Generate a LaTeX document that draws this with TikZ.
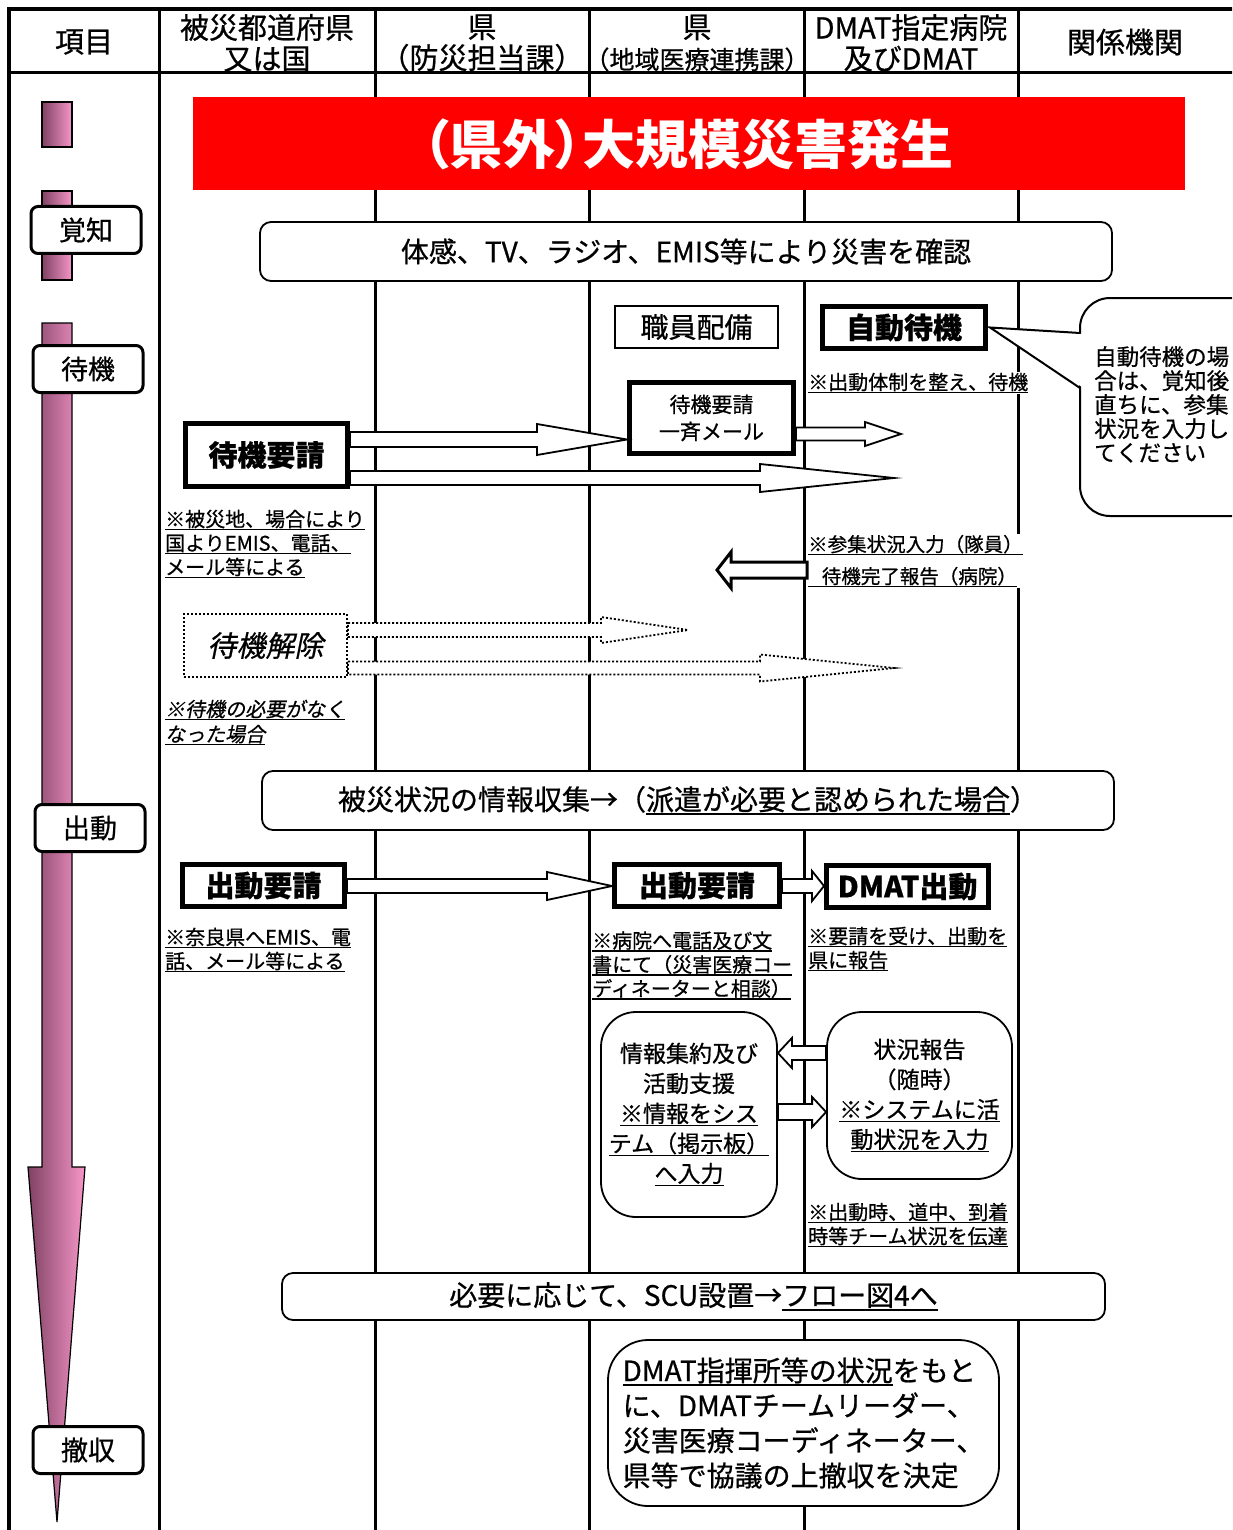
\documentclass[tikz,border=0pt]{standalone}
\usepackage{fontspec}
\setmainfont{Noto Sans CJK JP}[FakeBold=0.7]
\newfontfamily\jpit{Noto Sans CJK JP}[FakeSlant=0.2,FakeBold=0.7]
\newfontfamily\jpprop{Noto Sans CJK JP}[RawFeature=+palt]
\usepackage{xcolor}
\usepackage{tikz}
\usetikzlibrary{calc}
\usetikzlibrary{positioning}
\definecolor{pinkdark}{RGB}{128,66,100}
\definecolor{pinklight}{RGB}{246,150,200}
\newsavebox{\senbox}
\newcommand{\sen}[1]{\sbox{\senbox}{#1}\rlap{\rule[-0.18em]{\wd\senbox}{0.07em}}\usebox{\senbox}}
\newcommand{\fsz}[2]{\fontsize{#1}{#2}\selectfont}
\newcommand{\hollowarrow}[6][]{%
	\coordinate (hb) at ($(#3)!#6!(#2)$);
	\draw[hollow,#1] ($(#2)!#4!90:(#3)$) -- ($(hb)!#4!90:(#3)$) -- ($(hb)!#5!90:(#3)$) -- (#3) -- ($(hb)!#5!-90:(#3)$) -- ($(hb)!#4!-90:(#3)$) -- ($(#2)!#4!-90:(#3)$) -- cycle;}

\begin{document}
\begin{tikzpicture}[x=1pt,y=-1pt,
	head/.style={align=center,font=\fsz{29}{31}},
	stage/.style={draw,line width=3pt,rounded corners=7pt,fill=white,minimum width=110pt,minimum height=47pt,font=\fsz{27}{30}},
	band/.style={draw,line width=1.8pt,rounded corners=11pt,fill=white,font=\fsz{28}{30}},
	thickbox/.style={draw,line width=5pt,fill=white,inner sep=0pt,font=\bfseries\fsz{29}{33}},
	infobox/.style={draw,line width=1.8pt,fill=white,align=center,font=\fsz{23}{30}},
	dotbox/.style={draw,line width=2pt,dash pattern=on 2pt off 2pt,fill=white},
	note/.style={anchor=west,align=left,inner sep=1pt,fill=white,font=\fsz{20}{24}},
	hollow/.style={draw,fill=white,line width=1.8pt},
	pinkbar/.style={draw,line width=1.2pt,left color=pinkdark,right color=pinklight}]
	\path[use as bounding box] (0,0) rectangle (1232,1530);
	\clip (0,0) rectangle (1232,1530);
	\draw[line width=4pt] (9,9) rectangle (1260,1560);
	\draw[line width=3pt] (9,73) -- (1260,73);
	\foreach \cx in {159,375,589,804,1018}
		\draw[line width=3pt] (\cx,9) -- (\cx,1560);
	\node[head] (h1) at (84,42) {項目};
	\node[head] (h2) at (267,43) {被災都道府県\\又は国};
	\node[head] (h3) at (482,43) {県\\（防災担当課）};
	\node[head] (h4) at (697,43) {県\\{\fsz{25}{31}（地域医療連携課）}};
	\node[head] (h5) at (911,43) {DMAT指定病院\\及びDMAT};
	\node[head] (h6) at (1125,42) {関係機関};

	\draw[pinkbar] (42,102) rectangle (72,147);
	\draw[pinkbar] (42,191) rectangle (72,280);
	\draw[pinkbar] (42,323) -- (72,323) -- (72,1167) -- (85,1167) -- (57,1522) -- (28,1167) -- (42,1167) -- cycle;
	\node[stage] (kakuchi) at (86,230) {覚知};
	\node[stage] (taiki) at (88,369) {待機};
	\node[stage] (shutsudo) at (90,828) {出動};
	\node[stage] (tesshu) at (88,1450) {撤収};

	\fill[red] (193,97) rectangle (1185,190);
	\node[text=white,font=\jpprop\bfseries\fsz{53}{56}] (hassei) at (688,144) {（県外）大規模災害発生};
	\node[band,minimum width=852pt,minimum height=59pt] (kakunin) at (686,251.5) {体感、TV、ラジオ、EMIS等により災害を確認};

	\node[draw,line width=1.8pt,fill=white,minimum width=163pt,minimum height=42pt,font=\fsz{28}{31}] (haibi) at (696.5,327) {職員配備};
	\node[thickbox,minimum width=163pt,minimum height=42pt] (jido) at (904,327.5) {自動待機};
	\draw[line width=2pt,fill=white,rounded corners=30pt] (1080,298) rectangle (1300,516);
	\fill[white] (1082,334) -- ([xshift=2pt]jido.east) -- (1082,387) -- cycle;
	\draw[line width=2pt] (1080,333) -- ([xshift=2pt]jido.east) -- (1080,388);
	\node[anchor=north west,align=left,inner sep=0pt,font=\fsz{22.5}{24}] (fukidashi) at (1094,346) {自動待機の場\\合は、覚知後\\直ちに、参集\\状況を入力し\\てください};
	\node[note] (n1) at (807,383) {\sen{※出動体制を整え、待機}};

	\node[thickbox,font=\fsz{21}{27},align=center,minimum width=164pt,minimum height=71pt] (mail) at (711.5,418) {待機要請\\一斉メール};
	\node[thickbox,minimum width=162pt,minimum height=63pt] (yosei1) at (266.5,455) {待機要請};
	\coordinate (t2) at (894,478);
	\coordinate (t3) at (901,434);
	\hollowarrow{yosei1.east |- 0,439.5}{mail.west |- 0,439.5}{7.5pt}{15.5pt}{90pt}
	\hollowarrow{yosei1.east |- 0,478}{t2}{7pt}{14pt}{134pt}
	\hollowarrow{mail.east |- 0,434}{t3}{6.5pt}{12pt}{36pt}
	\node[note] (n2) at (164,544) {\sen{※被災地、場合により}\\\sen{国よりEMIS、電話、}\\\sen{メール等による}};
	\node[note,font=\fsz{19.5}{32}] (n3) at (807,561) {\sen{※参集状況入力（隊員）}\\\sen{\hspace*{0.7em}待機完了報告（病院）}};
	\coordinate (t4) at (717,570);
	\hollowarrow[line width=3pt]{n3.west |- 0,570}{t4}{8pt}{18pt}{14pt}

	\node[dotbox,minimum width=163pt,minimum height=63pt,font=\jpit\fsz{29}{33}] (kaijo) at (265.5,645.5) {待機解除};
	\coordinate (t5) at (688,630);
	\coordinate (t6) at (894,668);
	\hollowarrow[dash pattern=on 2pt off 2pt]{kaijo.east |- 0,630}{t5}{7pt}{13pt}{87pt}
	\hollowarrow[dash pattern=on 2pt off 2pt]{kaijo.east |- 0,668}{t6}{6.5pt}{13.5pt}{134pt}
	\node[note,font=\jpit\fsz{20}{25}] (n4) at (164,722.5) {\sen{※待機の必要がなく}\\\sen{なった場合}};

	\node[band,minimum width=852pt,minimum height=59pt] (joho) at (688,800.5) {被災状況の情報収集→（\sen{派遣が必要と認められた場合}）};
	\node[thickbox,minimum width=162pt,minimum height=42pt] (shutsu1) at (263.5,885.5) {出動要請};
	\node[thickbox,minimum width=165pt,minimum height=42pt] (shutsu2) at (697,885.5) {出動要請};
	\node[thickbox,minimum width=162pt,minimum height=42pt] (dmat) at (907.5,886.5) {DMAT出動};
	\hollowarrow{shutsu1.east |- 0,886}{shutsu2.west |- 0,886}{7pt}{14pt}{65pt}
	\hollowarrow{shutsu2.east |- 0,886}{dmat.west |- 0,886}{7pt}{15pt}{12pt}
	\node[note] (n5) at (164,950) {\sen{※奈良県へEMIS、電}\\\sen{話、メール等による}};
	\node[note] (n6) at (591,965.5) {\sen{※病院へ電話及び文}\\\sen{書にて（災害医療コー}\\\sen{ディネーターと相談）}};
	\node[note] (n7) at (807,949) {\sen{※要請を受け、出動を}\\\sen{県に報告}};

	\node[infobox,rounded corners=35pt,minimum width=176pt,minimum height=205pt] (shuyaku) at (689,1114.5) {情報集約及び\\活動支援\\\sen{※情報をシス}\\\sen{テム（掲示板）}\\\sen{へ入力}};
	\node[infobox,rounded corners=35pt,minimum width=185pt,minimum height=167pt] (jokyo) at (919.5,1095.5) {状況報告\\（随時）\\\sen{※システムに活}\\\sen{動状況を入力}};
	\hollowarrow{jokyo.west |- 0,1053}{shuyaku.east |- 0,1053}{7pt}{15pt}{14pt}
	\hollowarrow{shuyaku.east |- 0,1112}{jokyo.west |- 0,1112}{8pt}{15pt}{14pt}
	\node[note] (n8) at (807,1225) {\sen{※出動時、道中、到着}\\\sen{時等チーム状況を伝達}};

	\node[band,minimum width=823pt,minimum height=47pt] (scu) at (693.5,1296.5) {必要に応じて、SCU設置→\sen{フロー図4へ}};
	\node[infobox,rounded corners=40pt,align=left,font=\fsz{28}{35},minimum width=391pt,minimum height=166pt] (kettei) at (803.5,1423) {\sen{DMAT指揮所等の状況}をもと\\に、DMATチームリーダー、\\災害医療コーディネーター、\\県等で協議の上撤収を決定};
\end{tikzpicture}
\end{document}
